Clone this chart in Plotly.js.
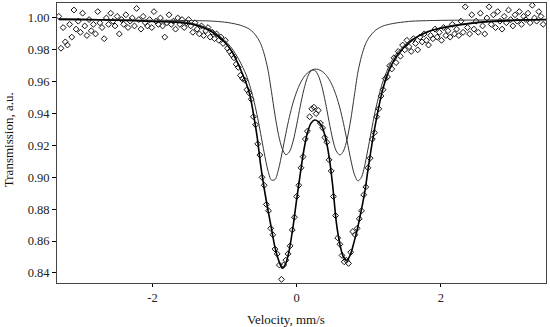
<!DOCTYPE html>
<html>
<head>
<meta charset="utf-8">
<script src="https://cdn.plot.ly/plotly-3.0.1.min.js"></script>
<style>html,body{margin:0;padding:0;background:#fff;}#chart{width:550px;height:327px;}</style>
</head>
<body>
<div id="chart"></div>
<script>
// Measured spectrum (velocity, mm/s ; transmission, a.u.)
const dataVelocity = [
-3.30,-3.27,-3.24,-3.21,-3.18,-3.15,-3.12,-3.09,-3.06,-3.03,
-3.00,-2.97,-2.94,-2.91,-2.88,-2.85,-2.82,-2.79,-2.76,-2.73,
-2.70,-2.67,-2.64,-2.61,-2.58,-2.55,-2.52,-2.49,-2.46,-2.43,
-2.40,-2.37,-2.34,-2.31,-2.28,-2.25,-2.22,-2.19,-2.16,-2.13,
-2.10,-2.07,-2.04,-2.01,-1.98,-1.95,-1.92,-1.89,-1.86,-1.83,
-1.80,-1.77,-1.74,-1.71,-1.68,-1.65,-1.62,-1.59,-1.56,-1.53,
-1.50,-1.47,-1.44,-1.41,-1.38,-1.35,-1.32,-1.29,-1.26,-1.23,
-1.20,-1.17,-1.14,-1.11,-1.08,-1.05,-1.02,-0.99,-0.96,-0.93,
-0.90,-0.87,-0.84,-0.81,-0.78,-0.75,-0.72,-0.69,-0.66,-0.63,
-0.60,-0.57,-0.54,-0.51,-0.48,-0.45,-0.42,-0.39,-0.36,-0.33,
-0.30,-0.27,-0.24,-0.21,-0.18,-0.15,-0.12,-0.09,-0.06,-0.03,
0.00,0.03,0.06,0.09,0.12,0.15,0.18,0.21,0.24,0.27,
0.30,0.33,0.36,0.39,0.42,0.45,0.48,0.51,0.54,0.57,
0.60,0.63,0.66,0.69,0.72,0.75,0.78,0.81,0.84,0.87,
0.90,0.93,0.96,0.99,1.02,1.05,1.08,1.11,1.14,1.17,
1.20,1.23,1.26,1.29,1.32,1.35,1.38,1.41,1.44,1.47,
1.50,1.53,1.56,1.59,1.62,1.65,1.68,1.71,1.74,1.77,
1.80,1.83,1.86,1.89,1.92,1.95,1.98,2.01,2.04,2.07,
2.10,2.13,2.16,2.19,2.22,2.25,2.28,2.31,2.34,2.37,
2.40,2.43,2.46,2.49,2.52,2.55,2.58,2.61,2.64,2.67,
2.70,2.73,2.76,2.79,2.82,2.85,2.88,2.91,2.94,2.97,
3.00,3.03,3.06,3.09,3.12,3.15,3.18,3.21,3.24,3.27,
3.30,3.33,3.36,3.39,3.42
];
const dataTransmission = [
1.001,0.981,0.994,0.985,0.983,0.996,0.988,1.005,0.993,0.998,
0.991,1.003,0.995,0.989,0.999,0.992,0.996,0.990,1.004,0.997,
0.994,0.987,1.000,0.996,1.003,0.998,0.995,1.001,0.990,0.999,
0.996,1.002,0.994,0.998,1.000,0.995,1.006,0.999,0.993,1.001,
0.997,0.995,0.999,0.994,1.004,0.998,0.996,1.000,0.995,0.988,
0.997,1.002,0.996,0.998,0.993,1.000,0.996,0.999,0.994,0.997,
0.999,0.995,0.991,0.997,0.993,0.990,0.995,0.989,0.992,0.994,
0.988,0.991,0.987,0.990,0.986,0.988,0.984,0.986,0.981,0.979,
0.977,0.975,0.971,0.969,0.964,0.962,0.961,0.955,0.953,0.949,
0.938,0.933,0.921,0.914,0.900,0.895,0.883,0.879,0.868,0.864,
0.855,0.852,0.845,0.836,0.845,0.848,0.852,0.857,0.867,0.875,
0.888,0.895,0.906,0.913,0.924,0.929,0.938,0.943,0.944,0.940,
0.942,0.934,0.931,0.925,0.922,0.911,0.904,0.888,0.876,0.862,
0.858,0.851,0.847,0.848,0.846,0.853,0.866,0.864,0.868,0.874,
0.879,0.889,0.894,0.906,0.912,0.924,0.928,0.938,0.943,0.951,
0.955,0.962,0.963,0.970,0.968,0.975,0.972,0.979,0.976,0.983,
0.980,0.986,0.982,0.979,0.987,0.984,0.980,0.988,0.985,0.990,
0.986,0.983,0.989,0.987,0.993,0.988,0.991,0.986,0.994,0.989,
0.992,0.988,0.996,0.990,0.993,0.989,0.998,0.991,1.007,0.994,
0.990,1.002,0.993,0.998,0.991,1.003,0.995,0.990,1.000,1.007,
0.996,1.002,0.994,1.004,0.998,0.993,1.001,0.997,1.005,0.999,
0.995,1.002,0.998,1.004,0.996,1.001,0.999,1.003,0.997,1.008,
1.000,0.998,1.004,1.001,0.996
];

// Fitted curves sampled along velocity
const curveVelocity = [-3.3,-3.0,-2.5,-2.0,-1.5,-1.2,-1.0,-0.9,-0.8,-0.7,-0.65,-0.6,-0.55,-0.5,-0.45,-0.4,-0.35,-0.3,-0.25,-0.2,-0.15,-0.1,-0.05,0,0.05,0.1,0.15,0.2,0.25,0.3,0.35,0.4,0.45,0.5,0.55,0.6,0.65,0.7,0.75,0.8,0.85,0.9,0.95,1.0,1.1,1.2,1.3,1.4,1.6,1.8,2.0,2.5,3.0,3.46];
const fitTotal = [0.9993,0.9991,0.9986,0.9978,0.9965,0.992,0.985,0.979,0.970,0.959,0.952,0.940,0.926,0.908,0.893,0.880,0.868,0.856,0.848,0.843,0.846,0.855,0.869,0.886,0.902,0.917,0.928,0.934,0.936,0.935,0.932,0.925,0.913,0.895,0.872,0.858,0.850,0.848,0.852,0.860,0.869,0.880,0.892,0.908,0.935,0.956,0.969,0.977,0.986,0.991,0.9935,0.997,0.9984,0.999];
const doubletOuter = [0.9992,0.9991,0.9988,0.9982,0.9971,0.9929,0.986,0.981,0.9738,0.9643,0.9576,0.9494,0.9393,0.9276,0.9154,0.9046,0.8983,0.8986,0.9053,0.9159,0.9274,0.938,0.9468,0.9537,0.959,0.9629,0.9655,0.9671,0.9679,0.9677,0.9666,0.9646,0.9615,0.9571,0.9512,0.9435,0.9339,0.9228,0.9114,0.902,0.8977,0.9001,0.9085,0.9202,0.9435,0.9605,0.9715,0.9786,0.9866,0.9907,0.994,0.9974,0.9986,0.999];
const doubletInner = [0.9988,0.9988,0.9987,0.9986,0.9984,0.9981,0.9974,0.9967,0.9957,0.9941,0.9928,0.9909,0.988,0.984,0.9774,0.968,0.954,0.939,0.9264,0.918,0.9142,0.916,0.9225,0.9328,0.9446,0.955,0.9628,0.9668,0.9672,0.964,0.957,0.947,0.935,0.924,0.9165,0.914,0.9165,0.924,0.936,0.951,0.966,0.976,0.983,0.9875,0.9925,0.995,0.9962,0.997,0.998,0.9983,0.9985,0.9987,0.9988,0.9988];

const yTicks = [0.84,0.86,0.88,0.90,0.92,0.94,0.96,0.98,1.00];
const xTicks = [-2,0,2];

const serif = '"Liberation Serif", "Times New Roman", serif';

const traces = [
  {x: dataVelocity, y: dataTransmission, type: 'scatter', mode: 'markers',
   marker: {symbol: 'diamond-open', size: 4.5, color: '#111', line: {width: 1, color: '#111'}},
   hoverinfo: 'skip', showlegend: false},
  {x: curveVelocity, y: doubletOuter, type: 'scatter', mode: 'lines',
   line: {color: '#333', width: 1, shape: 'spline', smoothing: 0.8}, showlegend: false},
  {x: curveVelocity, y: doubletInner, type: 'scatter', mode: 'lines',
   line: {color: '#333', width: 1, shape: 'spline', smoothing: 0.8}, showlegend: false},
  {x: curveVelocity, y: fitTotal, type: 'scatter', mode: 'lines',
   line: {color: '#000', width: 1.6, shape: 'spline', smoothing: 0.8}, showlegend: false}
];

const layout = {
  width: 550, height: 327,
  margin: {l: 57, r: 4, t: 3, b: 44},
  paper_bgcolor: '#fff', plot_bgcolor: '#fff',
  font: {family: serif, size: 12, color: '#222'},
  xaxis: {
    range: [-3.325, 3.46], tickvals: xTicks, ticktext: xTicks.map(String),
    ticks: 'outside', ticklen: 3, tickcolor: '#000', showgrid: false, zeroline: false,
    showline: true, linecolor: '#444', linewidth: 1, mirror: true,
    tickfont: {family: serif, size: 12.5, color: '#222'}
  },
  yaxis: {
    range: [0.8337, 1.0094], tickvals: yTicks, ticktext: yTicks.map(v => v.toFixed(2)),
    ticks: 'outside', ticklen: 4, tickcolor: '#000', showgrid: false, zeroline: false,
    showline: true, linecolor: '#444', linewidth: 1, mirror: true,
    tickfont: {family: serif, size: 12.5, color: '#222'}
  },
  annotations: [
    {text: 'Velocity, mm/s', xref: 'paper', yref: 'paper', x: 0.468, y: 0, yshift: -36,
     xanchor: 'center', yanchor: 'middle', showarrow: false,
     font: {family: serif, size: 13, color: '#111'}},
    {text: 'Transmission, a.u.', xref: 'paper', yref: 'paper', x: 0, xshift: -49, y: 0.51,
     xanchor: 'center', yanchor: 'middle', textangle: -90, showarrow: false,
     font: {family: serif, size: 13, color: '#111'}}
  ]
};

Plotly.newPlot('chart', traces, layout, {displayModeBar: false, staticPlot: true});
</script>
</body>
</html>
